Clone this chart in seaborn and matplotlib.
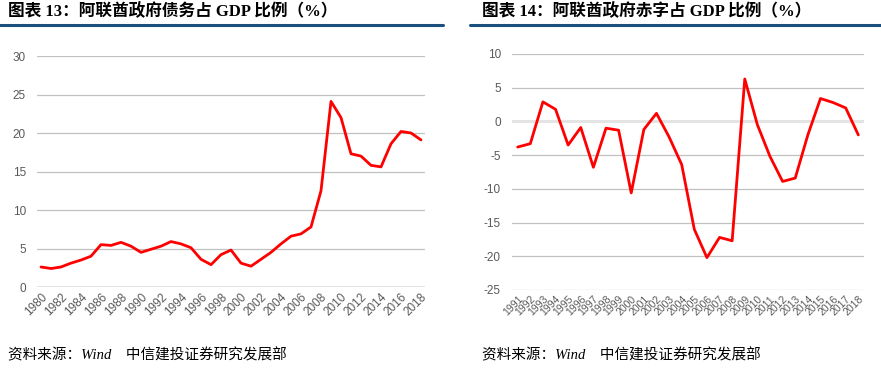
import matplotlib
matplotlib.use('Agg')
import matplotlib.pyplot as plt
from matplotlib.lines import Line2D
import seaborn as sns
import pandas as pd

# Government debt as % of GDP, 1980-2018
debt_years = list(range(1980, 2019))
debt_values = [2.6, 2.4, 2.6, 3.1, 3.5, 4.0, 5.5, 5.4, 5.8, 5.3,
               4.5, 4.9, 5.3, 5.9, 5.6, 5.1, 3.6, 2.9, 4.2, 4.8,
               3.1, 2.7, 3.6, 4.5, 5.6, 6.6, 6.9, 7.8, 12.5, 24.1,
               22.0, 17.3, 17.0, 15.8, 15.6, 18.6, 20.2, 20.0, 19.1]

# Government deficit as % of GDP, 1991-2018
deficit_years = list(range(1991, 2019))
deficit_values = [-3.8, -3.3, 2.9, 1.8, -3.5, -0.9, -6.8, -1.0, -1.3, -10.6,
                  -1.2, 1.2, -2.3, -6.4, -16.0, -20.2, -17.2, -17.7, 6.3, -0.5,
                  -5.2, -8.9, -8.4, -2.0, 3.4, 2.8, 2.0, -2.0]

titles = ['图表 13：阿联酋政府债务占 GDP 比例（%）',
          '图表 14：阿联酋政府赤字占 GDP 比例（%）']
source = '资料来源：Wind    中信建投证券研究发展部'

sns.set_theme(style='white')
plt.rcParams['font.family'] = ['Liberation Serif', 'Noto Sans CJK SC', 'DejaVu Sans']

W, H = 881, 371
fig = plt.figure(figsize=(W / 100, H / 100), dpi=100)
fig.patch.set_facecolor('white')

tick_color = '#595959'
grid_color = '#c0c0c0'
red = '#ff0000'


def setup_axis(ax, yticks, xticks, xsize):
    for s in ax.spines.values():
        s.set_visible(False)
    ax.set_yticks(yticks)
    ax.set_xticks(xticks)
    ax.set_xticklabels([str(x) for x in xticks], rotation=45, ha='right',
                       rotation_mode='anchor', fontsize=xsize, color=tick_color,
                       family=['Liberation Sans', 'DejaVu Sans'])
    ax.set_yticklabels([str(y) for y in yticks], fontsize=8.5, color=tick_color,
                       family=['Liberation Sans', 'DejaVu Sans'])
    ax.tick_params(axis='both', length=0)
    ax.tick_params(axis='y', pad=8)
    ax.tick_params(axis='x', pad=3)
    for y in yticks:
        if y == 0:
            ax.axhline(y, color='#e4e4e4', lw=2.2, zorder=0)
        else:
            ax.axhline(y, color=grid_color, lw=0.9, zorder=0)
    ax.set_xlabel('')
    ax.set_ylabel('')


# left panel
ax1 = fig.add_axes([37 / W, 1 - 287 / H, 388 / W, 231 / H])
df1 = pd.DataFrame({'year': debt_years, 'value': debt_values})
sns.lineplot(data=df1, x='year', y='value', ax=ax1, color=red, lw=2.0)
ax1.set_ylim(0, 30)
ax1.set_xlim(1979.6, 2018.4)
setup_axis(ax1, [0, 5, 10, 15, 20, 25, 30], list(range(1980, 2019, 2)), 8.5)

# right panel
ax2 = fig.add_axes([512 / W, 1 - 290 / H, 352 / W, 236 / H])
df2 = pd.DataFrame({'year': deficit_years, 'value': deficit_values})
sns.lineplot(data=df2, x='year', y='value', ax=ax2, color=red, lw=2.0)
ax2.set_ylim(-25, 10)
ax2.set_xlim(1990.55, 2018.45)
setup_axis(ax2, [-25, -20, -15, -10, -5, 0, 5, 10], deficit_years, 7.5)

# titles and rules
fig.text(8 / W, 1 - 12 / H, titles[0], fontsize=12, fontweight='bold',
         va='center', ha='left', color='black')
fig.text(482 / W, 1 - 12 / H, titles[1], fontsize=12, fontweight='bold',
         va='center', ha='left', color='black')
rule_color = '#1b4f7e'
fig.add_artist(Line2D([0, 443 / W], [1 - 24.5 / H] * 2, color=rule_color, lw=2.2))
fig.add_artist(Line2D([470 / W, 1], [1 - 24.5 / H] * 2, color=rule_color, lw=2.2))

# source notes
fig.text(8 / W, 1 - 355 / H, source, fontsize=10.5, style='italic',
         va='center', ha='left', color='black')
fig.text(482 / W, 1 - 355 / H, source, fontsize=10.5, style='italic',
         va='center', ha='left', color='black')

fig.savefig('out.png', dpi=100, facecolor='white')
